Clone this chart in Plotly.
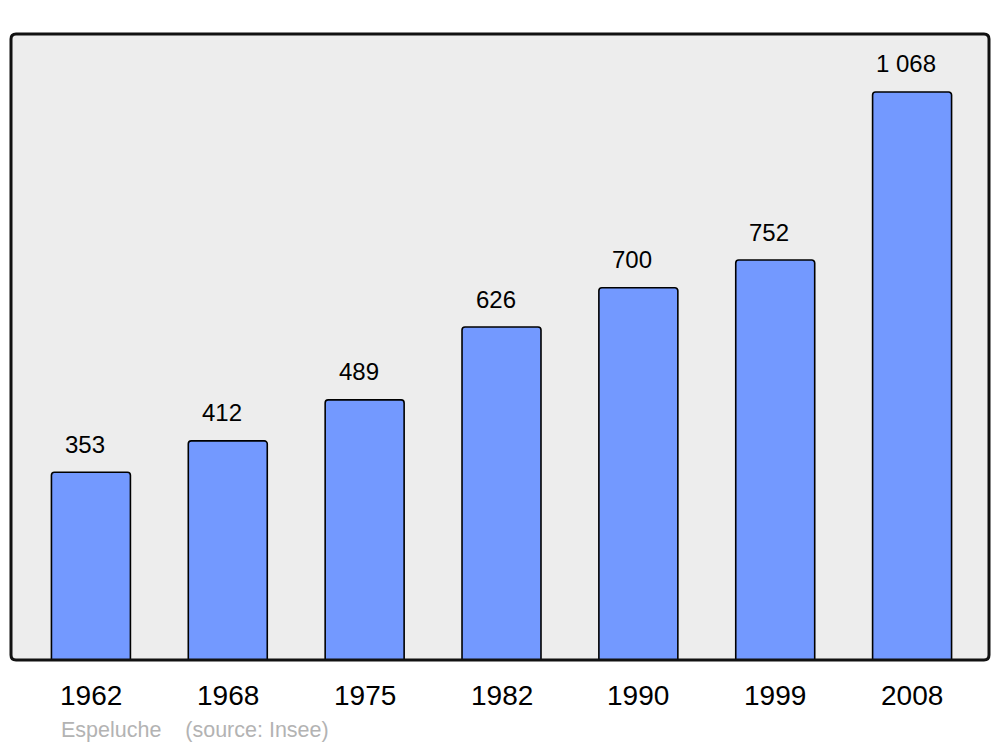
import plotly.graph_objects as go

years = ["1962", "1968", "1975", "1982", "1990", "1999", "2008"]
population = [353, 412, 489, 626, 700, 752, 1068]
caption = "Espeluche    (source: Insee)"

# page body has an 8px margin; compensate so the plot lands where the reference has it
OFF = 8
W, H = 1000 - OFF, 747 - OFF
L, T = 11 - OFF, 34 - OFF
pw, ph = 978, 626
R = W - L - pw
B = H - T - ph

xs = list(range(len(years)))
fig = go.Figure()
fig.add_trace(go.Bar(
    x=xs, y=population, width=0.577,
    marker=dict(color="#7399ff", line=dict(color="#000000", width=1.6), cornerradius=3),
    hoverinfo="skip",
))

for x, v in zip(xs, population):
    fig.add_annotation(
        x=x, y=v, xref="x", yref="y", text=f"{v:,}".replace(",", " "),
        showarrow=False, yanchor="middle", yshift=28, xshift=-6,
        font=dict(family="Liberation Sans, Arial", size=24, color="#000000"),
    )

for x, yr in zip(xs, years):
    fig.add_annotation(
        x=x, y=0, xref="x", yref="paper", text=yr, showarrow=False,
        yanchor="middle", yshift=-35,
        font=dict(family="Liberation Sans, Arial", size=28, color="#000000"),
    )

fig.add_annotation(
    x=(59 - 11) / pw, y=(660 - 730) / ph, xref="paper", yref="paper",
    text=caption.replace(" ", "&nbsp;"), showarrow=False, xanchor="left", yanchor="middle",
    font=dict(family="Liberation Sans, Arial", size=21.5, color="#b3b3b3"),
)

# rounded frame
rx, ry = 5 / pw, 5 / ph
def rpath():
    return (f"M {rx},0 L {1-rx},0 Q 1,0 1,{ry} L 1,{1-ry} Q 1,1 {1-rx},1 "
            f"L {rx},1 Q 0,1 0,{1-ry} L 0,{ry} Q 0,0 {rx},0 Z")

fig.add_shape(type="path", path=rpath(), xref="paper", yref="paper",
              fillcolor="#ededed", line=dict(width=0), layer="below")
fig.add_shape(type="path", path=rpath(), xref="paper", yref="paper",
              fillcolor="rgba(0,0,0,0)", line=dict(color="#111111", width=3), layer="above")

fig.update_layout(
    width=W, height=H,
    margin=dict(l=L, r=R, t=T, b=B),
    paper_bgcolor="#ffffff", plot_bgcolor="rgba(0,0,0,0)",
    showlegend=False,
    xaxis=dict(range=[-0.584, 6.562], showticklabels=False, showgrid=False,
               zeroline=False, ticks="", fixedrange=True),
    yaxis=dict(range=[0, 1177], showticklabels=False, showgrid=False,
               zeroline=False, ticks="", fixedrange=True),
)

fig.write_html("out.html")
